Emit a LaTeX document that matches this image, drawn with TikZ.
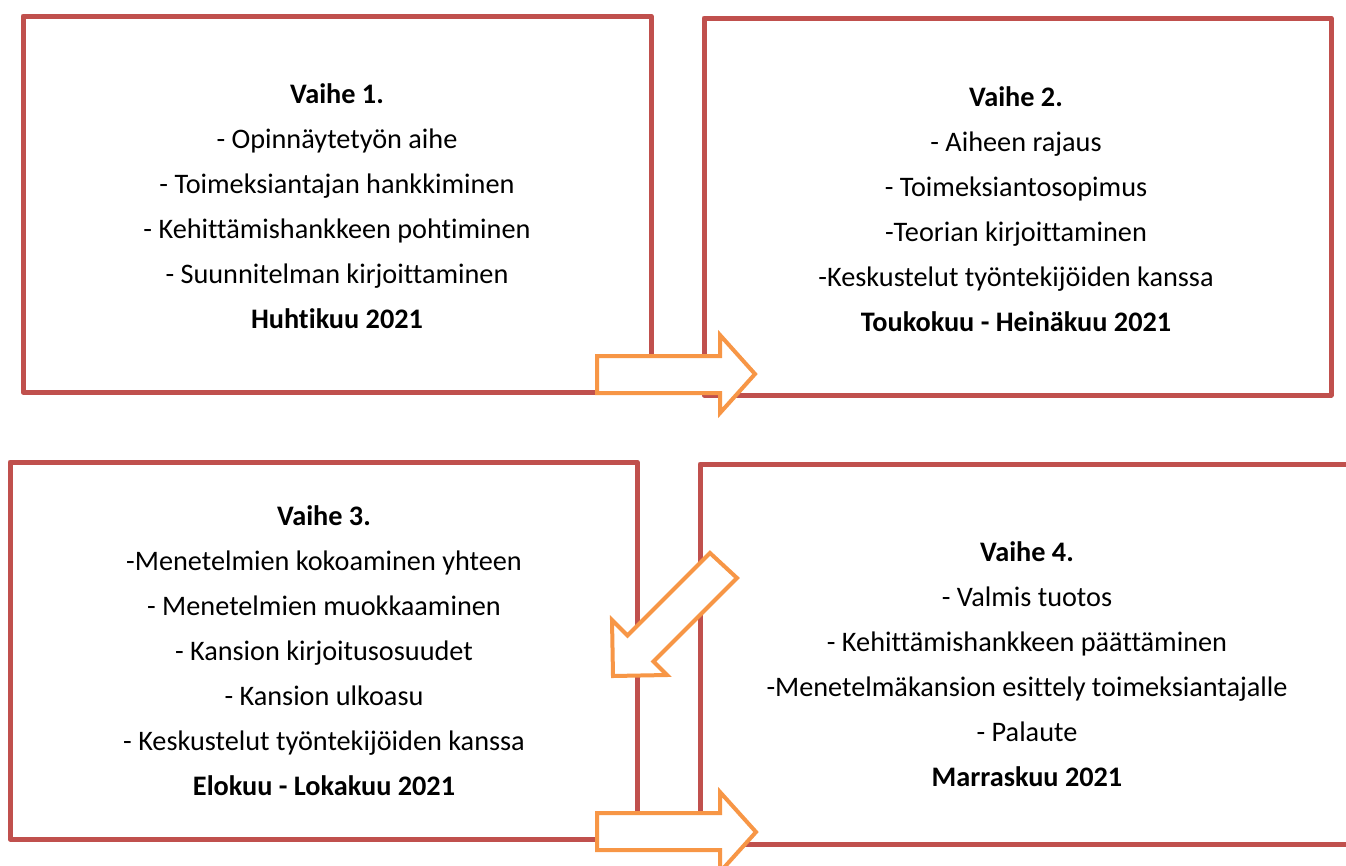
\documentclass[tikz,border=0pt]{standalone}
\usepackage{fontspec}
\setmainfont{Carlito}[Ligatures={NoCommon}]
\definecolor{boxred}{HTML}{C0504D}
\definecolor{arroworange}{HTML}{F79646}
\tikzset{
    phasebox/.style={draw=boxred, line width=3.75pt, line join=round},
    blockarrow/.style={draw=arroworange, fill=white, line width=3pt, line join=miter},
    phasetext/.style={align=center, font=\fontsize{21.2}{33.75}\selectfont}
}
\begin{document}
\begin{tikzpicture}[x=0.75pt,y=-0.75pt]
    \useasboundingbox (0,0) rectangle (1346,865);
    \clip (0,0) rectangle (1346,865);
    % boxes
    \draw[phasebox] (23,16) -- (651,16) -- (651,392) -- (23,392) -- cycle;
    \draw[phasebox] (704,18) -- (1331,18) -- (1331,395) -- (704,395) -- cycle;
    \draw[phasebox] (10,462) -- (637,462) -- (637,839) -- (10,839) -- cycle;
    \draw[phasebox] (700,464) -- (1360,464) -- (1360,844) -- (700,844) -- cycle;
    % texts
    \node[phasetext] (vaihe1) at (337,206) {\textbf{Vaihe 1.}\\- Opinnäytetyön aihe\\- Toimeksiantajan hankkiminen\\- Kehittämishankkeen pohtiminen\\- Suunnitelman kirjoittaminen\\\textbf{Huhtikuu 2021}};
    \node[phasetext] (vaihe2) at (1016,209) {\textbf{Vaihe 2.}\\- Aiheen rajaus\\- Toimeksiantosopimus\\-Teorian kirjoittaminen\\-Keskustelut työntekijöiden kanssa\\\textbf{Toukokuu - Heinäkuu 2021}};
    \node[phasetext] (vaihe3) at (324,651) {\textbf{Vaihe 3.}\\-Menetelmien kokoaminen yhteen\\- Menetelmien muokkaaminen\\- Kansion kirjoitusosuudet\\- Kansion ulkoasu\\- Keskustelut työntekijöiden kanssa\\\textbf{Elokuu - Lokakuu 2021}};
    \node[phasetext] (vaihe4) at (1027,664) {\textbf{Vaihe 4.}\\- Valmis tuotos\\- Kehittämishankkeen päättäminen\\-Menetelmäkansion esittely toimeksiantajalle\\- Palaute\\\textbf{Marraskuu 2021}};
    % arrows
    \draw[blockarrow] (597,356) -- (720,356) -- (720,335) -- (755,374) -- (720,413) -- (720,393) -- (597,393) -- cycle;
    \draw[blockarrow] (710,553) -- (737,578) -- (653.5,661.5) -- (667,675) -- (613,676) -- (612,620) -- (627.5,635.5) -- cycle;
    \draw[blockarrow] (597,813) -- (720,813) -- (720,792) -- (756,832) -- (720,872) -- (720,850) -- (597,850) -- cycle;
\end{tikzpicture}
\end{document}
